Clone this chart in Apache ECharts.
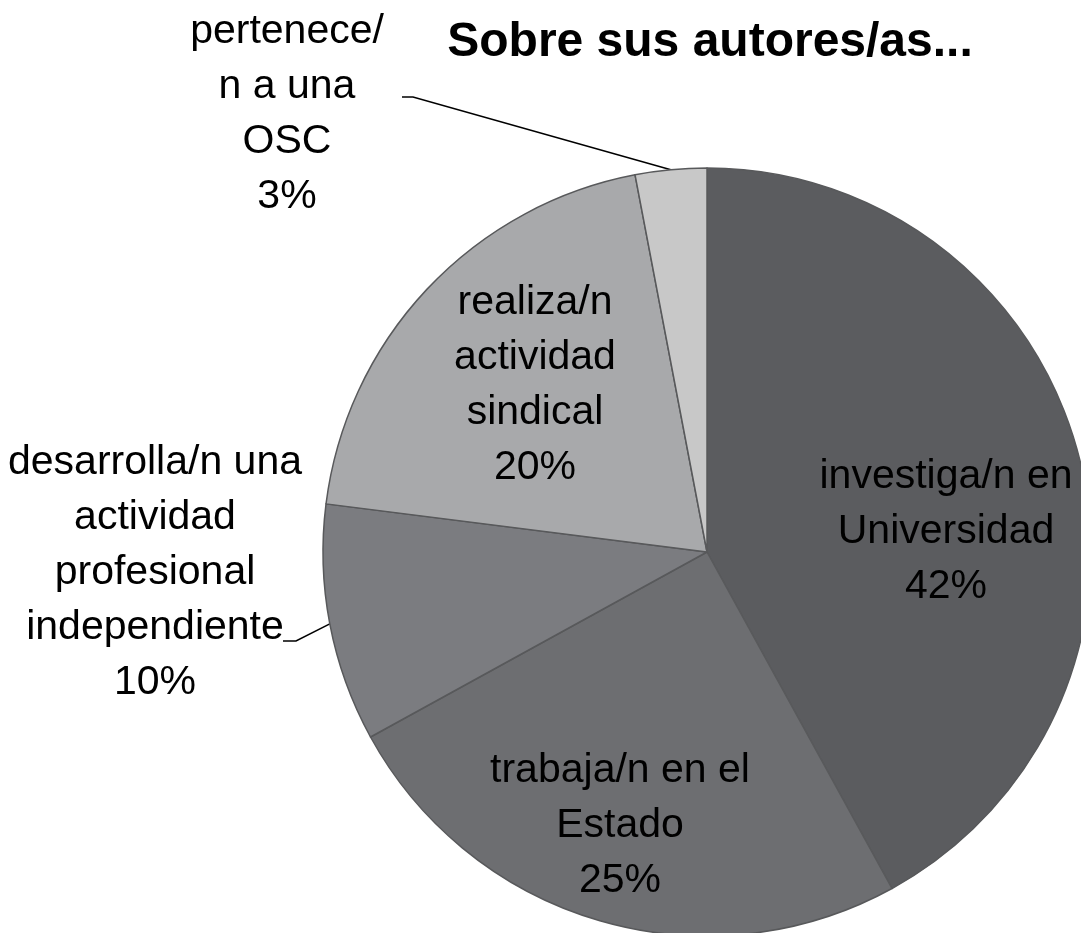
<!DOCTYPE html>
<html>
<head>
<meta charset="utf-8">
<script src="https://cdn.jsdelivr.net/npm/echarts@6/dist/echarts.min.js"></script>
<style>html,body{margin:0;padding:0;background:#fff}#c{width:1081px;height:933px}</style>
</head>
<body>
<div id="c"></div>
<script>
// Data
const categories = [
  'investiga/n en\nUniversidad',
  'trabaja/n en el\nEstado',
  'desarrolla/n una\nactividad\nprofesional\nindependiente',
  'realiza/n\nactividad\nsindical',
  'pertenece/\nn a una\nOSC'
];
const values = [42, 25, 10, 20, 3];

// Styles / layout (not data)
const colors = ['#5b5c5f', '#6d6e71', '#7b7c80', '#a8a9ab', '#c8c8c8'];
const labelCenters = [[946, 532], [620, 826], [155, 573], [535, 385], [287, 114]];
const outsideLabel = [false, false, true, false, true];
const labelLineElbows = [null, null, [[296, 641], [283, 641]], null, [[413, 97], [402, 97]]];

const FONT = "'Liberation Sans Narrow','Arial Narrow','Liberation Sans',Arial,sans-serif";
const CX = 707, CY = 552, R = 384;

const chart = echarts.init(document.getElementById('c'), null, {renderer: 'canvas'});

const total = values.reduce((a, b) => a + b, 0);
function anchorFor(i) {
  let cum = 0;
  for (let k = 0; k < i; k++) cum += values[k];
  const mid = (cum + values[i] / 2) / total * 2 * Math.PI;
  return [CX + R * Math.sin(mid), CY - R * Math.cos(mid)];
}

chart.setOption({
  animation: false,
  title: {
    text: 'Sobre sus autores/as...',
    left: 710,
    top: 19,
    textAlign: 'center',
    padding: 0,
    textStyle: {fontFamily: FONT, fontSize: 48, fontWeight: 'bold', color: '#000', lineHeight: 48}
  },
  series: [{
    type: 'pie',
    center: [CX, CY],
    radius: R,
    startAngle: 90,
    clockwise: true,
    silent: true,
    itemStyle: {borderColor: '#58595b', borderWidth: 1.5},
    label: {
      fontFamily: FONT, fontSize: 41, lineHeight: 55, color: '#000', align: 'center',
      overflow: 'none',
      formatter: p => p.name + '\n' + p.value + '%'
    },
    labelLine: {lineStyle: {color: '#000', width: 1.5}},
    labelLayout: function (params) {
      const i = params.dataIndex;
      const c = labelCenters[i];
      const res = {x: c[0], y: c[1], align: 'center', verticalAlign: 'middle'};
      if (outsideLabel[i]) {
        const a = (params.labelLinePoints && params.labelLinePoints[0]) || anchorFor(i);
        res.labelLinePoints = [a].concat(labelLineElbows[i]);
      }
      return res;
    },
    data: categories.map((n, i) => ({
      name: n,
      value: values[i],
      itemStyle: {color: colors[i]},
      label: {position: outsideLabel[i] ? 'outside' : 'inside', overflow: 'none'},
      labelLine: {show: outsideLabel[i]}
    }))
  }]
});
</script>
</body>
</html>
